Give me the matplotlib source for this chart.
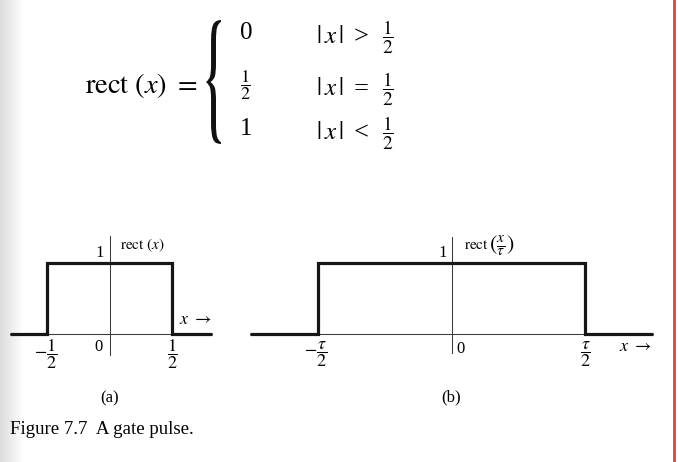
import numpy as np
import matplotlib
matplotlib.use("Agg")
import matplotlib.pyplot as plt
from matplotlib.textpath import TextPath
from matplotlib.patches import PathPatch
from matplotlib.font_manager import FontProperties
from matplotlib.lines import Line2D
from matplotlib.transforms import Affine2D

plt.rcParams['font.family'] = ['Liberation Serif', 'DejaVu Serif']
plt.rcParams['mathtext.fontset'] = 'stix'

W, H = 678, 462

# ---- data -------------------------------------------------------------
amp = 1.0
a_edges = [-0.5, 0.5]          # rect(x): edges at +-1/2
a_span = [-0.80, 0.82]         # drawn extent of the x axis
b_edges = [-0.5, 0.5]          # rect(x/tau): edges at +-tau/2 (tau = 1)
b_span = [-0.755, 0.755]

a_ticks = [-0.5, 0.5]
a_ticklabels = [r'$-\dfrac{1}{2}$', r'$\dfrac{1}{2}$']
b_ticks = [-0.5, 0.5]
b_ticklabels = [r'$-\dfrac{\tau}{2}$', r'$\dfrac{\tau}{2}$']

cases_val = ['0', r'$\dfrac{1}{2}$', '1']
cases_rel = ['>', '=', '<']
cases_bound = [r'$\dfrac{1}{2}$'] * 3


def step(edges, span, h):
    xs = [span[0], edges[0], edges[0], edges[1], edges[1], span[1]]
    ys = [0, 0, h, h, 0, 0]
    return xs, ys


def make_axes(fig, px_box, origin, scale):
    # px_box = (left, top, right, bottom) in pixels from top-left
    l, t, r, b = px_box
    ax = fig.add_axes([l / W, 1 - b / H, (r - l) / W, (b - t) / H])
    ax.set_xlim((l - origin[0]) / scale[0], (r - origin[0]) / scale[0])
    ax.set_ylim((origin[1] - b) / scale[1], (origin[1] - t) / scale[1])
    ax.axis('off')
    return ax


def ftext(px, py, s, **kw):
    fig.text(px / W, 1 - py / H, s, **kw)


fig = plt.figure(figsize=(W / 100, H / 100), dpi=100)
fig.patch.set_facecolor('white')

# scanner shadow on the left edge
sh = fig.add_axes([0, 0, 24 / W, 1])
grad = np.linspace(0.86, 1.0, 50)[None, :]
sh.imshow(grad, cmap='gray', vmin=0, vmax=1, aspect='auto', extent=[0, 1, 0, 1])
sh.axis('off')

thick = dict(color='#161616', lw=2.3, solid_joinstyle='miter', solid_capstyle='butt')
thin = dict(color='#3a3a3a', lw=0.75)

# ---- panel (a) ---------------------------------------------------------
ax = make_axes(fig, (0, 220, 240, 410), (109.5, 334), (125, 71))
ax.plot(a_span, [0, 0], **thin)
ax.plot([0, 0], [-0.30, 1.38], **thin)
xs, ys = step(a_edges, a_span, amp)
ax.plot(xs, ys, **thick)
ax.text(-0.045, amp + 0.14, '1', fontsize=12, ha='right', va='center')
ax.text(0.085, amp + 0.25, r'$\mathrm{rect}\ (x)$', fontsize=11, ha='left', va='center')
ax.text(0.82, 0.2, r'$x\ \rightarrow$', fontsize=13, ha='right', va='center')
ax.text(-0.09, -0.18, '0', fontsize=12, ha='center', va='center')
for t, lab in zip(a_ticks, a_ticklabels):
    ax.text(t - 0.01 if t < 0 else t, -0.29, lab, fontsize=13, ha='center', va='center')
ax.text(0.0, -0.9, '(a)', fontsize=12, ha='center', va='center')

# ---- panel (b) ---------------------------------------------------------
bx = make_axes(fig, (240, 220, 670, 410), (451.5, 334), (267, 71))
bx.plot(b_span, [0, 0], **thin)
bx.plot([0, 0], [-0.27, 1.37], **thin)
xs, ys = step(b_edges, b_span, amp)
bx.plot(xs, ys, **thick)
bx.text(-0.017, amp + 0.14, '1', fontsize=12, ha='right', va='center')
bx.text(0.045, amp + 0.24, r'$\mathrm{rect}$', fontsize=11, ha='left', va='center')
bx.text(0.14, amp + 0.25, r'$\left(\frac{x}{\tau}\right)$', fontsize=16, ha='left', va='center')
bx.text(0.02, -0.21, '0', fontsize=12, ha='left', va='center')
bx.text(0.752, -0.18, r'$x\ \rightarrow$', fontsize=13, ha='right', va='center')
for t, lab in zip(b_ticks, b_ticklabels):
    bx.text(t - 0.008 if t < 0 else t, -0.29, lab, fontsize=13, ha='center', va='center')
bx.text(0.0, -0.89, '(b)', fontsize=12, ha='center', va='center')

# ---- formula -----------------------------------------------------------
ftext(197, 86, r'$\mathrm{rect}\ (x)\ =$', fontsize=20.5, ha='right', va='center')

# tall curly brace: stretch a glyph outline into the box
bp = TextPath((0, 0), '{', size=10, prop=FontProperties(family='STIXGeneral', weight='bold'))
ext = bp.get_extents()
bl, bt, br, bb = 206, 20, 221, 144
tr = (Affine2D().translate(-ext.x0, -ext.y0)
      .scale((br - bl) / ext.width / W, (bb - bt) / ext.height / H)
      .translate(bl / W, 1 - bb / H))
fig.add_artist(PathPatch(tr.transform_path(bp), transform=fig.transFigure,
                         facecolor='#111111', edgecolor='none'))

row_y = [33, 85, 129]
for yy, v, rel, bnd in zip(row_y, cases_val, cases_rel, cases_bound):
    ftext(246, yy, v, fontsize=18 if v in '01' else 13, ha='center', va='center')
    ftext(316, yy + 4, r'$|\,x\,|$', fontsize=18, ha='left', va='center')
    ftext(361, yy + 4, rel, fontsize=19, ha='center', va='center')
    ftext(388, yy + 4, bnd, fontsize=14, ha='center', va='center')

# caption
ftext(10, 430, 'Figure 7.7  A gate pulse.', fontsize=13.6, ha='left', va='center')

# red margin line of the page
fig.add_artist(Line2D([674 / W, 674 / W], [0, 1], transform=fig.transFigure,
                      color='#d8453a', lw=2))

fig.savefig('out.png', dpi=100)
